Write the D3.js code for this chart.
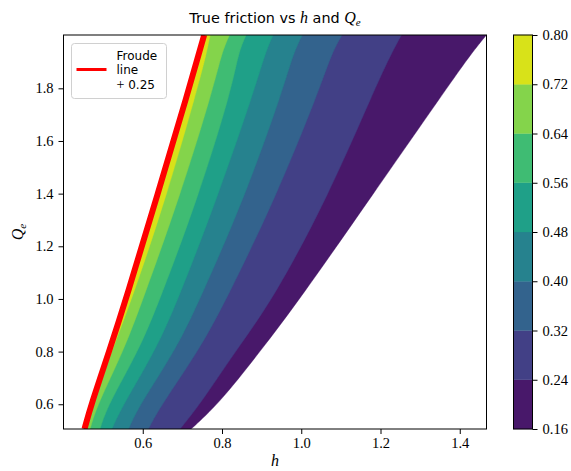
<!DOCTYPE html>
<html>
<head>
<meta charset="utf-8">
<script src="https://cdn.jsdelivr.net/npm/d3@7"></script>
<style>
  body { margin: 0; background: #fff; }
  svg { display: block; }
</style>
</head>
<body>
<svg id="chart" width="571" height="471"></svg>
<script>
// Sampled Q_e rows (bottom to top) at which the contour edges are tabulated
const qeValues = [0.506, 0.6, 0.8, 1.0, 1.4, 1.8, 1.934, 2.0025];

// h of the Froude line (+0.25) at each row
const froudeLine = [0.453, 0.470, 0.515, 0.558, 0.638, 0.717, 0.742, 0.755];

// h where the friction field drops below each contour level, per row
const edge016 = [0.722, 0.791, 0.896, 0.997, 1.182, 1.367, 1.430, 1.4675];
const edge024 = [0.694, 0.745, 0.833, 0.930, 1.071, 1.186, 1.228, 1.253];
const edge032 = [0.614, 0.648, 0.740, 0.812, 0.940, 1.047, 1.077, 1.103];
const edge040 = [0.564, 0.593, 0.681, 0.745, 0.861, 0.955, 0.980, 1.003];
const edge048 = [0.522, 0.551, 0.631, 0.690, 0.792, 0.883, 0.909, 0.929];
const edge056 = [0.492, 0.513, 0.589, 0.644, 0.743, 0.825, 0.841, 0.861];
const edge064 = [0.467, 0.486, 0.551, 0.601, 0.696, 0.778, 0.799, 0.819];
const edge072 = [0.458, 0.474, 0.521, 0.573, 0.662, 0.738, 0.761, 0.770];

// Contour levels and tick labels
const levels = [0.16, 0.24, 0.32, 0.40, 0.48, 0.56, 0.64, 0.72, 0.80];
const hTicks = [0.6, 0.8, 1.0, 1.2, 1.4];
const qTicks = [0.6, 0.8, 1.0, 1.2, 1.4, 1.6, 1.8];
const hLimits = [0.4, 1.4675];
const qLimits = [0.506, 2.0025];

const levelEdges = [edge016, edge024, edge032, edge040, edge048, edge056, edge064, edge072];

const SERIF = "'Liberation Serif', 'Times New Roman', serif";
const SANS = "'DejaVu Sans', sans-serif";

const svg = d3.select("#chart");
const plot = { left: 63.5, right: 486.5, top: 35, bottom: 429 };

const x = d3.scaleLinear().domain(hLimits).range([plot.left, plot.right]);
const y = d3.scaleLinear().domain(qLimits).range([plot.bottom, plot.top]);

const nBands = levels.length - 1;
const bandColor = i => d3.interpolateViridis((i + 0.5) / nBands);

svg.append("defs").append("clipPath").attr("id", "plotClip")
  .append("rect")
  .attr("x", plot.left).attr("y", plot.top)
  .attr("width", plot.right - plot.left).attr("height", plot.bottom - plot.top);

const field = svg.append("g").attr("clip-path", "url(#plotClip)");

// Each layer covers the region where the field is above its level,
// stacked from the lowest level up so higher bands paint over lower ones.
const band = d3.area()
  .curve(d3.curveBasis)
  .y((d, i) => y(qeValues[i]))
  .x0((d, i) => x(froudeLine[i]))
  .x1(d => x(d));

levelEdges.forEach((edge, i) => {
  field.append("path")
    .attr("d", band(edge))
    .attr("fill", bandColor(i))
    .attr("stroke", bandColor(i))
    .attr("stroke-width", 0.4);
});

// Froude line + 0.25
const froudePath = d3.line()
  .curve(d3.curveBasis)
  .x(d => x(d))
  .y((d, i) => y(qeValues[i]));

field.append("path")
  .attr("d", froudePath(froudeLine))
  .attr("fill", "none")
  .attr("stroke", "#ff0000")
  .attr("stroke-width", 6);

// Axes
const styleTicks = g => {
  g.select(".domain").remove();
  g.selectAll(".tick line").attr("stroke", "#000");
  g.selectAll(".tick text")
    .style("font-family", SERIF).style("font-size", "14.5px").attr("fill", "#000");
};

const xAxis = d3.axisBottom(x).tickValues(hTicks).tickFormat(d3.format(".1f"))
  .tickSize(5).tickPadding(4);
const yAxis = d3.axisLeft(y).tickValues(qTicks).tickFormat(d3.format(".1f"))
  .tickSize(5).tickPadding(5);

svg.append("g").attr("transform", `translate(0,${plot.bottom})`).call(xAxis).call(styleTicks);
svg.append("g").attr("transform", `translate(${plot.left},0)`).call(yAxis).call(styleTicks);

svg.append("rect")
  .attr("x", plot.left).attr("y", plot.top)
  .attr("width", plot.right - plot.left).attr("height", plot.bottom - plot.top)
  .attr("fill", "none").attr("stroke", "#000").attr("stroke-width", 1);

// Title
const title = svg.append("text")
  .attr("x", (plot.left + plot.right) / 2).attr("y", 23)
  .attr("text-anchor", "middle")
  .style("font-family", SANS).style("font-size", "14.4px");
title.append("tspan").text("True friction vs ");
title.append("tspan").text("h")
  .style("font-family", SERIF).style("font-style", "italic").style("font-size", "16px");
title.append("tspan").text(" and ");
title.append("tspan").text("Q")
  .style("font-family", SERIF).style("font-style", "italic").style("font-size", "16px");
title.append("tspan").text("e").attr("dy", 3)
  .style("font-family", SERIF).style("font-style", "italic").style("font-size", "11px");

// Axis labels
svg.append("text")
  .attr("x", (plot.left + plot.right) / 2).attr("y", 466)
  .attr("text-anchor", "middle")
  .style("font-family", SERIF).style("font-style", "italic").style("font-size", "16px")
  .text("h");

const yLab = svg.append("text")
  .attr("transform", `translate(23,${(plot.top + plot.bottom) / 2}) rotate(-90)`)
  .attr("text-anchor", "middle")
  .style("font-family", SERIF).style("font-style", "italic").style("font-size", "16px");
yLab.append("tspan").text("Q");
yLab.append("tspan").text("e").attr("dy", 3).style("font-size", "11px");

// Legend
const legend = svg.append("g");
legend.append("rect")
  .attr("x", 71.5).attr("y", 43.5).attr("width", 95).attr("height", 55)
  .attr("rx", 3).attr("fill", "#fff").attr("fill-opacity", 0.8)
  .attr("stroke", "#d0d0d0").attr("stroke-width", 1);
legend.append("line")
  .attr("x1", 76.5).attr("x2", 106.5).attr("y1", 69.5).attr("y2", 69.5)
  .attr("stroke", "#ff0000").attr("stroke-width", 3);
const legText = legend.append("text")
  .style("font-family", SANS).style("font-size", "12px");
legText.append("tspan").attr("x", 116.5).attr("y", 59.5).text("Froude");
legText.append("tspan").attr("x", 116.5).attr("y", 74).text("line");
legText.append("tspan").attr("x", 116.5).attr("y", 88.5).text("+")
  .style("font-family", SERIF).style("font-size", "14px");
legText.append("tspan").text(" 0.25");

// Colorbar
const cb = { left: 513.5, right: 532.5, top: 35, bottom: 429 };
const cbY = d3.scaleLinear().domain([levels[0], levels[levels.length - 1]]).range([cb.bottom, cb.top]);
const cbG = svg.append("g");
cbG.selectAll("rect.band")
  .data(d3.range(nBands))
  .join("rect")
  .attr("class", "band")
  .attr("x", cb.left).attr("width", cb.right - cb.left)
  .attr("y", i => cbY(levels[i + 1]))
  .attr("height", i => cbY(levels[i]) - cbY(levels[i + 1]))
  .attr("fill", i => bandColor(i))
  .attr("stroke", i => bandColor(i)).attr("stroke-width", 0.3);
cbG.append("rect")
  .attr("x", cb.left).attr("y", cb.top)
  .attr("width", cb.right - cb.left).attr("height", cb.bottom - cb.top)
  .attr("fill", "none").attr("stroke", "#000").attr("stroke-width", 1);
svg.append("g").attr("transform", `translate(${cb.right},0)`)
  .call(d3.axisRight(cbY).tickValues(levels).tickFormat(d3.format(".2f")).tickSize(5).tickPadding(5))
  .call(styleTicks);
</script>
</body>
</html>
